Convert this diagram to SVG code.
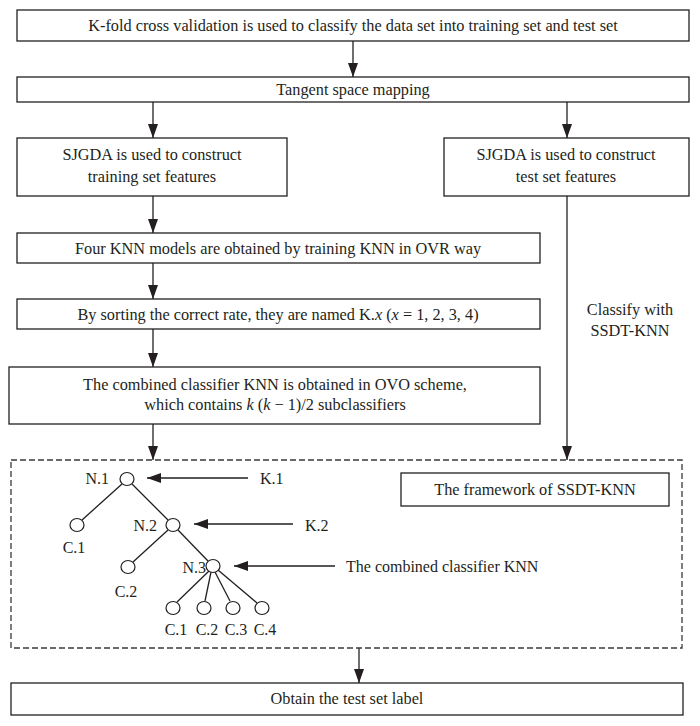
<svg xmlns="http://www.w3.org/2000/svg" width="700" height="726" viewBox="0 0 700 726">
<style>
.box{fill:#fff;stroke:#231f20;stroke-width:1.3}
.t{font-family:"Liberation Serif","Times New Roman",serif;font-size:16.3px;fill:#231f20;text-anchor:middle}
.s{font-family:"Liberation Serif","Times New Roman",serif;font-size:16px;fill:#231f20}
.ln{stroke:#231f20;stroke-width:1.3;fill:none}
.c{fill:#fff;stroke:#231f20;stroke-width:1.2}
.dash{fill:none;stroke:#3a3a3a;stroke-width:1.3;stroke-dasharray:6 3}
</style>
<defs>
<marker id="ah" markerUnits="userSpaceOnUse" markerWidth="14" markerHeight="10" refX="14" refY="5" orient="auto">
<path d="M0,0 L14,5 L0,10 z" fill="#231f20"/>
</marker>
</defs>
<rect width="700" height="726" fill="#fff"/>

<g id="connectors">
<line class="ln" x1="353" y1="41" x2="353" y2="77" marker-end="url(#ah)"/>
<line class="ln" x1="153" y1="102" x2="153" y2="138" marker-end="url(#ah)"/>
<line class="ln" x1="567" y1="102" x2="567" y2="138" marker-end="url(#ah)"/>
<line class="ln" x1="153" y1="196" x2="153" y2="233" marker-end="url(#ah)"/>
<line class="ln" x1="153" y1="263" x2="153" y2="299" marker-end="url(#ah)"/>
<line class="ln" x1="153" y1="329" x2="153" y2="367" marker-end="url(#ah)"/>
<line class="ln" x1="153" y1="424" x2="153" y2="460" marker-end="url(#ah)"/>
<line class="ln" x1="567" y1="196" x2="567" y2="460" marker-end="url(#ah)"/>
<line class="ln" x1="359" y1="648" x2="359" y2="683" marker-end="url(#ah)"/>
<text class="t" x="630" y="315">Classify with</text>
<text class="t" x="630" y="336">SSDT-KNN</text>
</g>

<g id="n1">
<rect class="box" x="17" y="10" width="672" height="31"/>
<text class="t" x="353" y="31">K-fold cross validation is used to classify the data set into training set and test set</text>
</g>
<g id="n2">
<rect class="box" x="17" y="77" width="672" height="25"/>
<text class="t" x="353" y="95">Tangent space mapping</text>
</g>
<g id="n3">
<rect class="box" x="17" y="138" width="270" height="58"/>
<text class="t" x="152" y="160">SJGDA is used to construct</text>
<text class="t" x="152" y="182">training set features</text>
</g>
<g id="n4">
<rect class="box" x="444" y="138" width="245" height="58"/>
<text class="t" x="566" y="160">SJGDA is used to construct</text>
<text class="t" x="566" y="182">test set features</text>
</g>
<g id="n5">
<rect class="box" x="17" y="233" width="523" height="30"/>
<text class="t" x="278" y="254">Four KNN models are obtained by training KNN in OVR way</text>
</g>
<g id="n6">
<rect class="box" x="17" y="299" width="523" height="30"/>
<text class="t" x="278" y="320">By sorting the correct rate, they are named K.<tspan font-style="italic">x</tspan> (<tspan font-style="italic">x</tspan> = 1, 2, 3, 4)</text>
</g>
<g id="n7">
<rect class="box" x="9" y="367" width="531" height="57"/>
<text class="t" x="275" y="390">The combined classifier KNN is obtained in OVO scheme,</text>
<text class="t" x="275" y="410">which contains <tspan font-style="italic">k</tspan> (<tspan font-style="italic">k</tspan> − 1)/2 subclassifiers</text>
</g>

<g id="framework">
<rect class="dash" x="11" y="460" width="671" height="188"/>
<rect class="box" x="401" y="473" width="268" height="33"/>
<text class="t" x="535" y="495">The framework of SSDT-KNN</text>
</g>

<g id="tree">
<line class="ln" x1="122" y1="484" x2="82" y2="520"/>
<line class="ln" x1="132" y1="484" x2="168" y2="520"/>
<line class="ln" x1="168" y1="530" x2="133" y2="562"/>
<line class="ln" x1="178" y1="530" x2="208" y2="561"/>
<line class="ln" x1="209" y1="571" x2="177" y2="602"/>
<line class="ln" x1="211" y1="572" x2="205" y2="601"/>
<line class="ln" x1="215" y1="572" x2="230" y2="601"/>
<line class="ln" x1="218" y1="570" x2="257" y2="603"/>
<ellipse class="c" cx="127" cy="479" rx="7" ry="6.5"/>
<ellipse class="c" cx="77" cy="525" rx="7" ry="6.5"/>
<ellipse class="c" cx="173" cy="525" rx="7" ry="6.5"/>
<ellipse class="c" cx="128" cy="567" rx="7" ry="6.5"/>
<ellipse class="c" cx="213" cy="566" rx="7" ry="6.5"/>
<ellipse class="c" cx="173" cy="608" rx="7" ry="6.5"/>
<ellipse class="c" cx="204" cy="608" rx="7" ry="6.5"/>
<ellipse class="c" cx="233" cy="608" rx="7" ry="6.5"/>
<ellipse class="c" cx="262" cy="608" rx="7" ry="6.5"/>
<text class="s" x="109" y="484" text-anchor="end">N.1</text>
<text class="s" x="157" y="531" text-anchor="end">N.2</text>
<text class="s" x="206" y="573" text-anchor="end">N.3</text>
<text class="s" x="74" y="553" text-anchor="middle">C.1</text>
<text class="s" x="126" y="597" text-anchor="middle">C.2</text>
<text class="s" x="176" y="635" text-anchor="middle">C.1</text>
<text class="s" x="207" y="635" text-anchor="middle">C.2</text>
<text class="s" x="236" y="635" text-anchor="middle">C.3</text>
<text class="s" x="265" y="635" text-anchor="middle">C.4</text>
<line class="ln" x1="248" y1="478" x2="147" y2="478" marker-end="url(#ah)"/>
<line class="ln" x1="293" y1="524" x2="194" y2="524" marker-end="url(#ah)"/>
<line class="ln" x1="335" y1="566" x2="234" y2="566" marker-end="url(#ah)"/>
<text class="s" x="260" y="484">K.1</text>
<text class="s" x="305" y="531">K.2</text>
<text class="s" x="346" y="572">The combined classifier KNN</text>
</g>

<g id="n8">
<rect class="box" x="11" y="683" width="672" height="32"/>
<text class="t" x="347" y="704">Obtain the test set label</text>
</g>
</svg>
